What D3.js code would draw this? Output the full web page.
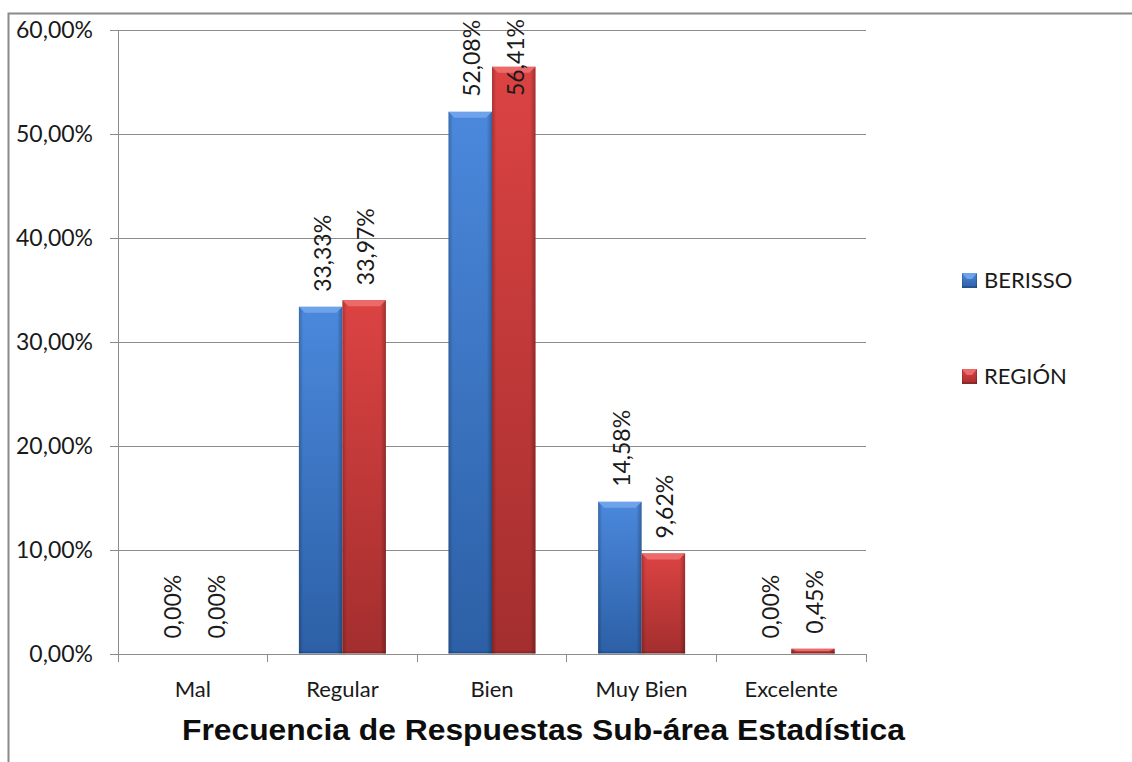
<!DOCTYPE html>
<html>
<head>
<meta charset="utf-8">
<script src="https://cdn.jsdelivr.net/npm/d3@7"></script>
<style>
html,body{margin:0;padding:0;background:#fff;}
svg{display:block;}
</style>
</head>
<body>
<svg id="chart" width="1132" height="762"></svg>
<script>
const categories = ["Mal", "Regular", "Bien", "Muy Bien", "Excelente"];
const seriesNames = ["BERISSO", "REGIÓN"];
const berisso = [0, 33.33, 52.08, 14.58, 0];
const region = [0, 33.97, 56.41, 9.62, 0.45];
const yTicks = [0, 10, 20, 30, 40, 50, 60];
const title = "Frecuencia de Respuestas Sub-área Estadística";

const series = [
  {name: seriesNames[0], values: berisso, top: "#4b88dc", bottom: "#2c60a6", bevel: "#6ea3eb"},
  {name: seriesNames[1], values: region, top: "#dc4343", bottom: "#a42e2e", bevel: "#ec6a6a"}
];

const svg = d3.select("#chart");
const W = 1132, H = 762;
const plot = {left: 118, right: 866, top: 29.5, bottom: 653.5};
const font = "Lato, 'Open Sans', sans-serif";

// frame
svg.append("path")
  .attr("d", `M8.5,${H} L8.5,13.5 L${W},13.5`)
  .attr("fill", "none").attr("stroke", "#8a8a8a").attr("stroke-width", 2);

const defs = svg.append("defs");
series.forEach((s, i) => {
  const g = defs.append("linearGradient").attr("id", "vg" + i)
    .attr("x1", 0).attr("y1", 0).attr("x2", 0).attr("y2", 1);
  g.append("stop").attr("offset", "0%").attr("stop-color", s.top);
  g.append("stop").attr("offset", "100%").attr("stop-color", s.bottom);
});
const hg = defs.append("linearGradient").attr("id", "edge")
  .attr("x1", 0).attr("y1", 0).attr("x2", 1).attr("y2", 0);
hg.append("stop").attr("offset", "0%").attr("stop-color", "#000").attr("stop-opacity", 0.22);
hg.append("stop").attr("offset", "10%").attr("stop-color", "#000").attr("stop-opacity", 0);
hg.append("stop").attr("offset", "88%").attr("stop-color", "#000").attr("stop-opacity", 0);
hg.append("stop").attr("offset", "100%").attr("stop-color", "#000").attr("stop-opacity", 0.28);

const x = d3.scaleBand().domain(categories).range([plot.left, plot.right]).padding(0);
const x1 = d3.scaleBand().domain(seriesNames).range([0, 87]).padding(0);
const y = d3.scaleLinear().domain([0, 60]).range([plot.bottom, plot.top]);

// gridlines + y labels
const yAxis = d3.axisLeft(y).tickValues(yTicks)
  .tickSize(-(plot.right - plot.left)).tickSizeOuter(0)
  .tickFormat(d => d3.format(".2f")(d).replace(".", ",") + "%");
const ga = svg.append("g").attr("transform", `translate(${plot.left},0)`).call(yAxis);
ga.select(".domain").remove();
ga.selectAll(".tick line").attr("stroke", "#8c8c8c").attr("x1", -8).attr("shape-rendering", "crispEdges");
ga.selectAll(".tick text").attr("x", -25).attr("dy", "0.35em")
  .style("font-family", font).style("font-size", "23px").attr("fill", "#1a1a1a");

// y axis line
svg.append("line").attr("x1", plot.left).attr("x2", plot.left)
  .attr("y1", plot.top).attr("y2", plot.bottom)
  .attr("stroke", "#8c8c8c").attr("shape-rendering", "crispEdges");

// x axis ticks (category boundaries)
const bounds = categories.map(c => x(c)).concat([plot.right]);
svg.selectAll(".xt").data(bounds).enter().append("line")
  .attr("x1", d => d).attr("x2", d => d)
  .attr("y1", plot.bottom).attr("y2", plot.bottom + 8)
  .attr("stroke", "#8c8c8c").attr("shape-rendering", "crispEdges");

// category labels
svg.selectAll(".cl").data(categories).enter().append("text")
  .attr("x", d => x(d) + x.bandwidth() / 2).attr("y", 697)
  .attr("text-anchor", "middle")
  .style("font-family", font).style("font-size", "22px").attr("fill", "#1a1a1a")
  .text(d => d);

// bars
function drawBar(g, bx, by, bw, bh, i) {
  const s = series[i];
  if (bh <= 0.5) return;
  g.append("rect").attr("x", bx).attr("y", by).attr("width", bw).attr("height", bh)
    .attr("fill", `url(#vg${i})`);
  g.append("rect").attr("x", bx).attr("y", by).attr("width", bw).attr("height", bh)
    .attr("fill", "url(#edge)");
  const b = Math.min(6, bh / 2), inset = Math.min(6, bw / 3);
  g.append("polygon")
    .attr("points", [[bx, by], [bx + bw, by], [bx + bw - inset, by + b], [bx + inset, by + b]].map(p => p.join(",")).join(" "))
    .attr("fill", s.bevel);
  if (bh > 4) {
    g.append("rect").attr("x", bx).attr("y", by + bh - 2).attr("width", bw).attr("height", 2)
      .attr("fill", "#000").attr("opacity", 0.15);
  }
}

const barsG = svg.append("g");
const labelsG = svg.append("g");
categories.forEach((c, ci) => {
  series.forEach((s, si) => {
    const v = s.values[ci];
    const bx = x(c) + x.bandwidth() / 2 - 43.5 + x1(s.name);
    const bw = x1.bandwidth();
    const top = y(v);
    drawBar(barsG, bx, top, bw, plot.bottom - top, si);
    const cx = bx + bw / 2;
    const t = labelsG.append("text")
      .style("font-family", font).style("font-size", "23px").attr("fill", "#1a1a1a")
      .attr("text-anchor", "start")
      .text(d3.format(".2f")(v).replace(".", ",") + "%");
    const len = t.node().getComputedTextLength();
    let baseY = top - 15;
    if (baseY - len < 19) baseY = 19 + len;
    t.attr("transform", `translate(${cx + 10},${baseY}) rotate(-90)`);
  });
});

// legend
const lg = svg.append("g");
series.forEach((s, i) => {
  const ly = 273 + i * 96;
  drawBar(lg, 962, ly, 15, 15, i);
  lg.append("text").attr("x", 984).attr("y", ly + 15)
    .style("font-family", font).style("font-size", "22px").attr("fill", "#1a1a1a")
    .text(s.name);
});

// title
svg.append("text").attr("x", 543.5).attr("y", 740).attr("text-anchor", "middle")
  .style("font-family", "'Liberation Sans', Arial, sans-serif").style("font-weight", "bold")
  .style("font-size", "30px").attr("fill", "#0d0d0d")
  .attr("textLength", 723).attr("lengthAdjust", "spacingAndGlyphs")
  .text(title);
</script>
</body>
</html>
